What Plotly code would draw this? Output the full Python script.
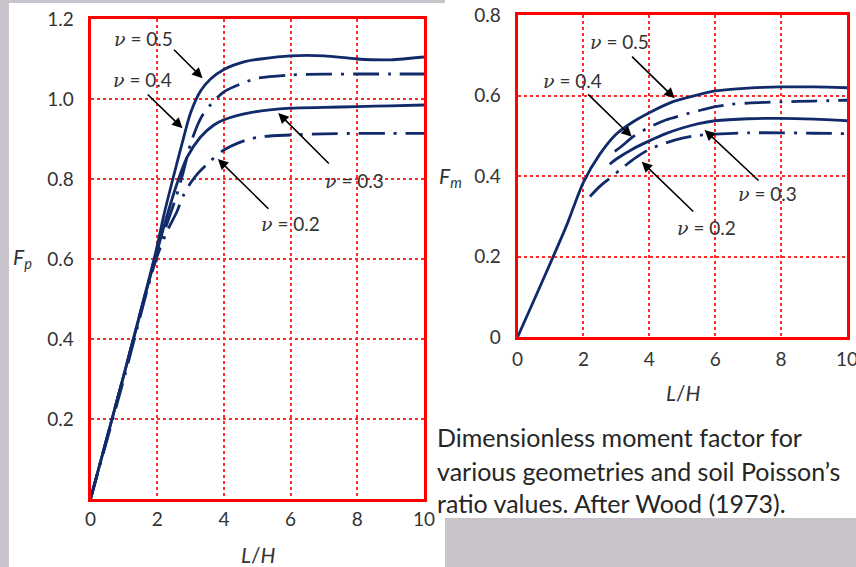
import plotly.graph_objects as go

# ---------------- data ----------------
# Left chart: F_p versus L/H
lh_p_05 = [0, 1.0, 1.95, 2.2, 2.5, 2.75, 3.0, 3.3, 3.6, 4.0, 4.6, 5.1, 6, 7, 8, 9, 10]
fp_05 = [0, 0.31, 0.615, 0.71, 0.81, 0.89, 0.965, 1.02, 1.05, 1.074, 1.093, 1.10, 1.108, 1.108, 1.100, 1.098, 1.105]
lh_p_04 = [0, 1.0, 1.95, 2.3, 2.57, 2.77, 3.02, 3.32, 3.62, 4.0, 4.67, 5, 6, 7, 8, 9, 10]
fp_04 = [0, 0.31, 0.605, 0.69, 0.756, 0.814, 0.893, 0.954, 0.9875, 1.018, 1.043, 1.052, 1.06, 1.062, 1.0625, 1.0625, 1.0625]
lh_p_03 = [0, 1.0, 1.95, 2.3, 2.6, 2.9, 3.3, 3.7, 4.0, 4.8, 6, 7, 8, 9, 10]
fp_03 = [0, 0.31, 0.605, 0.71, 0.79, 0.855, 0.905, 0.935, 0.948, 0.966, 0.977, 0.979, 0.981, 0.983, 0.985]
lh_p_02 = [0, 1.0, 1.95, 2.3, 2.6, 2.77, 3.0, 3.22, 3.57, 4.0, 4.67, 5.17, 6, 7, 8, 9, 10]
fp_02 = [0, 0.30, 0.595, 0.67, 0.72, 0.756, 0.79, 0.814, 0.843, 0.8725, 0.8975, 0.906, 0.91, 0.913, 0.914, 0.914, 0.914]

# Right chart: F_m versus L/H
lh_m_05 = [0, 0.5, 1.0, 1.5, 2.0, 2.5, 3.0, 3.5, 4.0, 4.7, 5.5, 6, 7, 8, 9, 10]
fm_05 = [0, 0.092, 0.185, 0.28, 0.385, 0.455, 0.505, 0.535, 0.558, 0.585, 0.603, 0.612, 0.619, 0.622, 0.622, 0.620]
lh_m_04 = [2.95, 3.15, 3.5, 4.0, 4.5, 5.0, 5.5, 6.0, 6.5, 7.0, 8.0, 9.0, 10.0]
fm_04 = [0.462, 0.474, 0.498, 0.522, 0.54, 0.552, 0.563, 0.573, 0.579, 0.582, 0.585, 0.587, 0.589]
lh_m_03 = [2.8, 3.0, 3.5, 4.0, 4.5, 5.0, 5.5, 6.0, 7.0, 8.0, 9.0, 10.0]
fm_03 = [0.43, 0.443, 0.468, 0.488, 0.506, 0.52, 0.531, 0.538, 0.543, 0.544, 0.542, 0.538]
lh_m_02 = [2.2, 2.5, 2.8, 3.2, 3.6, 4.0, 4.5, 5.0, 5.5, 6.0, 7.0, 8.0, 9.0, 10.0]
fm_02 = [0.35, 0.375, 0.395, 0.422, 0.447, 0.467, 0.483, 0.495, 0.502, 0.505, 0.508, 0.508, 0.507, 0.506]

x_ticks = [0, 2, 4, 6, 8, 10]
fp_ticks = [0.2, 0.4, 0.6, 0.8, 1.0, 1.2]
fp_ticktext = ["0.2", "0.4", "0.6", "0.8", "1.0", "1.2"]
fm_ticks = [0, 0.2, 0.4, 0.6, 0.8]
fm_ticktext = ["0", "0.2", "0.4", "0.6", "0.8"]

nu_labels = ["0.5", "0.4", "0.3", "0.2"]
# label positions (data coords) and arrows (tail -> head)
left_label_pos = [(1.6, 1.152), (1.56, 1.05), (7.92, 0.797), (5.99, 0.69)]
left_arrows = [((2.46, 1.127), (3.36, 1.052)), ((1.67, 1.015), (2.76, 0.927)),
               ((7.19, 0.835), (5.63, 0.965)), ((5.38, 0.722), (3.82, 0.850))]
right_label_pos = [(3.10, 0.734), (1.67, 0.639), (7.6, 0.358), (5.74, 0.272)]
right_arrows = [((3.43, 0.701), (4.77, 0.594)), ((2.10, 0.607), (3.47, 0.498)),
                ((7.36, 0.386), (5.68, 0.515)), ((5.38, 0.309), (3.77, 0.436))]

caption_lines = ["Dimensionless moment factor for",
                 "various geometries and soil Poisson\u2019s",
                 "ratio values. After Wood (1973)."]

# ---------------- styling ----------------
W, H = 856, 567
NAVY = "#102a6a"
RED = "#ff0000"
GRID = "#ff2a2a"
FONT = "Lato"
TXT = "#333333"
DASHDOT = "26px,9px,3px,9px"
NU = "<span style='font-family:DejaVu Serif'><i>\u03bd</i></span>"

fig = go.Figure()

def add_curve(x, y, xa, ya, dash):
    fig.add_trace(go.Scatter(x=x, y=y, xaxis=xa, yaxis=ya, mode="lines",
                             line=dict(color=NAVY, width=2.8, dash=dash, shape="spline", smoothing=0.8),
                             showlegend=False, hoverinfo="skip"))

add_curve(lh_p_05, fp_05, "x", "y", "solid")
add_curve(lh_p_04, fp_04, "x", "y", DASHDOT)
add_curve(lh_p_03, fp_03, "x", "y", "solid")
add_curve(lh_p_02, fp_02, "x", "y", DASHDOT)
add_curve(lh_m_05, fm_05, "x2", "y2", "solid")
add_curve(lh_m_04, fm_04, "x2", "y2", DASHDOT)
add_curve(lh_m_03, fm_03, "x2", "y2", "solid")
add_curve(lh_m_02, fm_02, "x2", "y2", DASHDOT)

axis_common = dict(showgrid=True, gridcolor=GRID, griddash="dot", gridwidth=1.5,
                   showline=True, linecolor=RED, linewidth=3, mirror=True, automargin=False,
                   zeroline=False, ticks="", ticklabeloverflow="allow",
                   tickfont=dict(family=FONT, size=19, color=TXT))

def px2x(p):
    return p / W

def px2y(p):
    return 1 - p / H

fig.update_layout(
    width=W, height=H,
    margin=dict(l=0, r=0, t=0, b=0, pad=0),
    paper_bgcolor="#c9c4cc",
    plot_bgcolor="white",
    xaxis=dict(domain=[px2x(90.5), px2x(424)], range=[0, 10], tickvals=x_ticks,
               anchor="y", ticklabelstandoff=1, **axis_common),
    yaxis=dict(domain=[px2y(499), px2y(19)], range=[0, 1.2], tickvals=fp_ticks,
               ticktext=fp_ticktext, anchor="x", ticklabelstandoff=10, **axis_common),
    xaxis2=dict(domain=[px2x(517.5), px2x(847)], range=[0, 10], tickvals=x_ticks,
                anchor="y2", ticklabelstandoff=3, **axis_common),
    yaxis2=dict(domain=[px2y(337.3), px2y(15.3)], range=[0, 0.8], tickvals=fm_ticks,
                ticktext=fm_ticktext, anchor="x2", ticklabelstandoff=10, **axis_common),
)

# white page panels over the gray background
shapes = [
    dict(x0=px2x(9), x1=px2x(445), y0=px2y(567), y1=px2y(3)),
    dict(x0=px2x(445), x1=1, y0=px2y(518), y1=1),
    dict(x0=px2x(9), x1=1, y0=px2y(518), y1=px2y(3)),
]
for s in shapes:
    fig.add_shape(type="rect", xref="paper", yref="paper", layer="below",
                  fillcolor="white", line=dict(width=0), **s)

annotations = []
for (lx, ly), lab in zip(left_label_pos, nu_labels):
    annotations.append(dict(x=lx, y=ly, xref="x", yref="y", showarrow=False,
                            xanchor="center", yanchor="middle",
                            text=NU + " = " + lab, font=dict(family=FONT, size=19, color=TXT)))
for (lx, ly), lab in zip(right_label_pos, nu_labels):
    annotations.append(dict(x=lx, y=ly, xref="x2", yref="y2", showarrow=False,
                            xanchor="center", yanchor="middle",
                            text=NU + " = " + lab, font=dict(family=FONT, size=19, color=TXT)))
for (tail, head) in left_arrows:
    annotations.append(dict(x=head[0], y=head[1], ax=tail[0], ay=tail[1], xref="x", yref="y",
                            axref="x", ayref="y", text="", showarrow=True, arrowhead=2,
                            arrowsize=1.3, arrowwidth=1.6, arrowcolor="black"))
for (tail, head) in right_arrows:
    annotations.append(dict(x=head[0], y=head[1], ax=tail[0], ay=tail[1], xref="x2", yref="y2",
                            axref="x2", ayref="y2", text="", showarrow=True, arrowhead=2,
                            arrowsize=1.3, arrowwidth=1.6, arrowcolor="black"))

# axis titles
title_specs = [("<i>F<sub>p</sub></i>", 22, 258), ("<i>F<sub>m</sub></i>", 450, 177),
               ("<i>L</i>/<i>H</i>", 258, 554), ("<i>L</i>/<i>H</i>", 683, 392)]
for txt, xc, yc in title_specs:
    annotations.append(dict(x=px2x(xc), y=px2y(yc), xref="paper", yref="paper", showarrow=False,
                            xanchor="center", yanchor="middle", text=txt,
                            font=dict(family=FONT, size=21, color=TXT)))

for line, yc in zip(caption_lines, [437, 471, 503]):
    annotations.append(dict(x=px2x(435), y=px2y(yc), xref="paper", yref="paper", showarrow=False,
                            xanchor="left", yanchor="middle", text=line,
                            font=dict(family=FONT, size=25, color="#262626")))

fig.update_layout(annotations=annotations)

fig.write_html("out.html", config={"displayModeBar": False},
               post_script="document.body.style.margin='0';document.body.style.overflow='hidden';")
